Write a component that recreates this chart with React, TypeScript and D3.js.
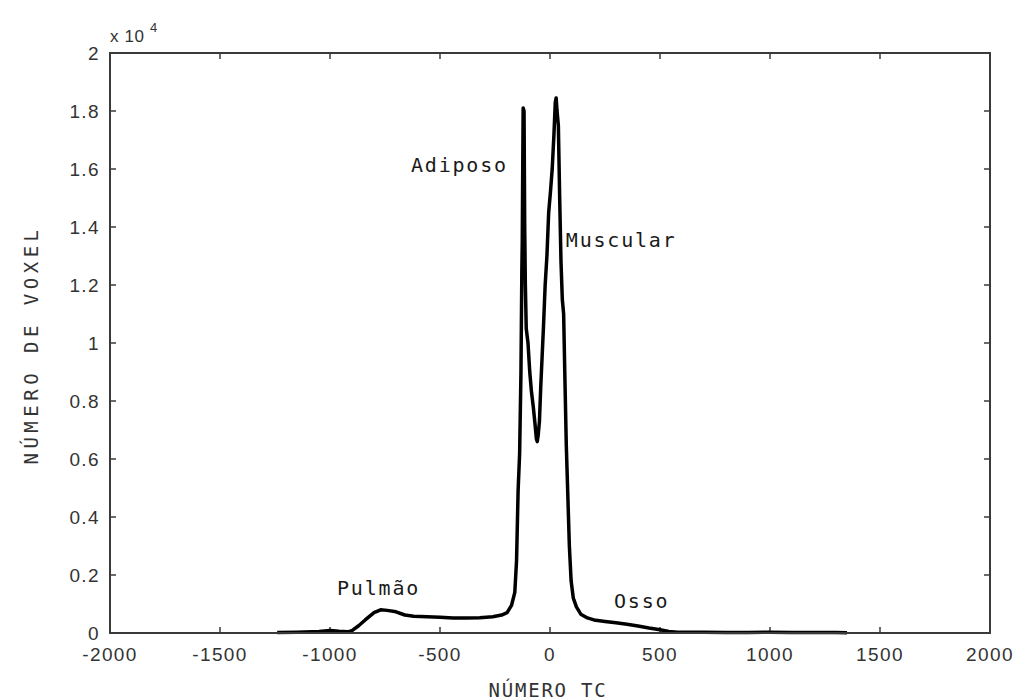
import React from "react";
import * as d3 from "d3";

const tcValues = [
  -1240, -1150, -1050, -1000, -960, -920, -900, -870, -840, -800, -770, -740, -700, -660, -620, -560, -500, -440, -380, -320, -260, -220, -195, -175, -160, -152, -145, -138, -132, -128, -126, -124, -122, -118, -115, -112, -108, -100, -92, -84, -76, -68, -62, -58, -54, -48, -42, -36, -30, -22, -14, -6, 2, 10, 18, 24, 28, 32, 38, 44, 50, 56, 62, 68, 74, 80, 88, 96, 106, 120, 140, 170, 200, 250, 300, 350, 400, 450, 500, 540, 580, 700, 800, 900, 1000, 1100, 1200, 1300, 1350,
];
const voxelCounts = [
  20, 30, 50, 90, 60, 40, 80, 250, 450, 700, 800, 780, 730, 620, 580, 560, 540, 520, 520, 530, 560, 620, 700, 950, 1400, 2500, 4900, 6200, 9000, 12500, 13500, 16000, 18100, 18000, 14000, 12000, 10500, 10000, 9000, 8300, 7800, 7200, 6700, 6600, 6800, 7300, 8500, 9500, 10500, 12000, 13000, 14500, 15200, 16000, 17200, 18300, 18450, 18000, 17500, 15000, 12800, 11500, 11000, 8700, 6500, 5000, 3000, 1800, 1200, 900, 650, 520, 450, 400, 350, 300, 240, 170, 110, 50, 30, 25, 20, 20, 25, 20, 15, 20, 10,
];

const xTicks = [-2000, -1500, -1000, -500, 0, 500, 1000, 1500, 2000];
const yTicks = [0, 2000, 4000, 6000, 8000, 10000, 12000, 14000, 16000, 18000, 20000];
const yTickLabels = ["0", "0.2", "0.4", "0.6", "0.8", "1", "1.2", "1.4", "1.6", "1.8", "2"];

const annotations = [
  { text: "Adiposo", v: -632, c: 15900 },
  { text: "Muscular", v: 72, c: 13300 },
  { text: "Pulmão", v: -968, c: 1310 },
  { text: "Osso", v: 291, c: 860 },
];

export default function App() {
  const left = 110, right = 990, top = 53, bottom = 633;
  const x = d3.scaleLinear().domain([-2000, 2000]).range([left, right]);
  const y = d3.scaleLinear().domain([0, 20000]).range([bottom, top]);
  const pts = tcValues.map((v, i) => [v, voxelCounts[i]] as [number, number]);
  const line = d3.line<[number, number]>().x((d) => x(d[0])).y((d) => y(d[1]));
  const axisColor = "#3a3a3a";
  const tickFont = "Arial, 'Liberation Sans', sans-serif";
  const mono = "'DejaVu Sans Mono', 'Liberation Mono', monospace";
  const tl = 6;
  return (
    <svg width={1018} height={700} style={{ position: "absolute", left: 0, top: 0, background: "#fff" }}>
      <rect x={0} y={0} width={1018} height={700} fill="#fff" />
      {xTicks.map((t) => (
        <g key={"x" + t}>
          <line x1={x(t)} x2={x(t)} y1={bottom} y2={bottom - tl} stroke={axisColor} strokeWidth={1.5} />
          <line x1={x(t)} x2={x(t)} y1={top} y2={top + tl} stroke={axisColor} strokeWidth={1.5} />
          <text x={x(t)} y={bottom + 28} textAnchor="middle" fontFamily={tickFont} fontSize={19} letterSpacing={1.4} fill="#333">
            {t}
          </text>
        </g>
      ))}
      {yTicks.map((t, i) => (
        <g key={"y" + t}>
          <line x1={left} x2={left + tl} y1={y(t)} y2={y(t)} stroke={axisColor} strokeWidth={1.5} />
          <line x1={right} x2={right - tl} y1={y(t)} y2={y(t)} stroke={axisColor} strokeWidth={1.5} />
          <text x={100} y={y(t) + 7} textAnchor="end" fontFamily={tickFont} fontSize={19} letterSpacing={1.4} fill="#333">
            {yTickLabels[i]}
          </text>
        </g>
      ))}
      <path d={line(pts) || ""} fill="none" stroke="#000" strokeWidth={3.5} strokeLinejoin="round" />
      <rect x={left} y={top} width={right - left} height={bottom - top} fill="none" stroke={axisColor} strokeWidth={2} />
      <text x={110} y={42} fontFamily={tickFont} fontSize={17} letterSpacing={0.6} fill="#333">
        x 10
      </text>
      <text x={150} y={32} fontFamily={tickFont} fontSize={13} fill="#333">
        4
      </text>
      {annotations.map((a) => (
        <text key={a.text} x={x(a.v)} y={y(a.c)} fontFamily={mono} fontSize={20} letterSpacing={1.8} fill="#1a1a1a">
          {a.text}
        </text>
      ))}
      <text x={548} y={697} textAnchor="middle" fontFamily={mono} fontSize={19} letterSpacing={1.8} fill="#333">
        NÚMERO TC
      </text>
      <text transform="translate(38,345) rotate(-90)" textAnchor="middle" fontFamily={mono} fontSize={19} letterSpacing={4.5} fill="#333">
        NÚMERO DE VOXEL
      </text>
    </svg>
  );
}
